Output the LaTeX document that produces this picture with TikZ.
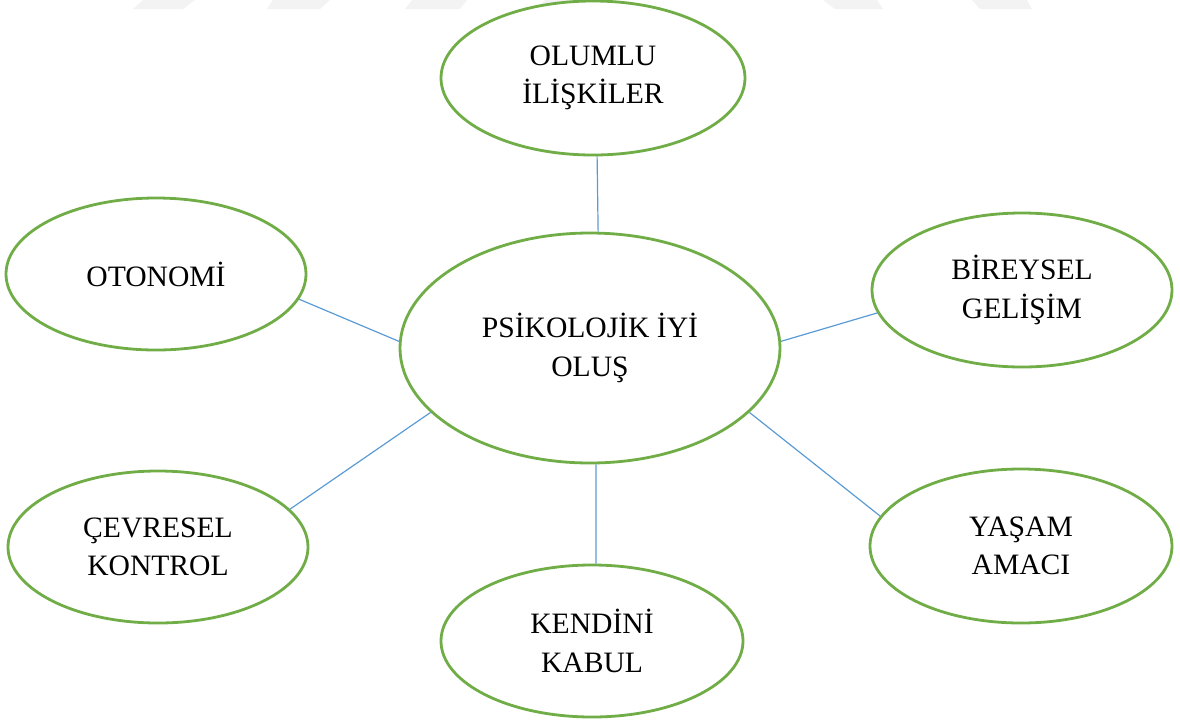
\documentclass[tikz,border=0pt]{standalone}
\usepackage{fontspec}
\setmainfont{Liberation Serif}
\usetikzlibrary{shapes.geometric}
\definecolor{ringgreen}{HTML}{70AD47}
\definecolor{linkblue}{HTML}{5B9BD5}
\definecolor{wmgray}{HTML}{F3F3F3}
\begin{document}
\begin{tikzpicture}[x=0.5pt,y=-0.5pt,
  bubble/.style={ellipse, draw=ringgreen, line width=1.4pt, fill=white, inner sep=0pt,
    align=center, font=\fontsize{14.8pt}{19.2pt}\selectfont},
  link/.style={draw=linkblue, line width=0.6pt},
  wm/.style={fill=wmgray, draw=none}]
\useasboundingbox (0,0) rectangle (1180,719);
% faint watermark marks along the top edge
\fill[wm] (143,0) -- (195,0) -- (183,9) -- (133,9) -- cycle;
\fill[wm] (273,0) -- (330,0) -- (320,9) -- (267,9) -- cycle;
\fill[wm] (412,0) -- (467,0) -- (460,9) -- (405,9) -- cycle;
\fill[wm] (545,0) -- (600,0) -- (592,9) -- (538,9) -- cycle;
\fill[wm] (823,0) -- (877,0) -- (883,9) -- (835,9) -- cycle;
\fill[wm] (972,0) -- (1027,0) -- (1032,9) -- (980,9) -- cycle;
% nodes
\node[bubble, minimum width=190pt, minimum height=115pt] (center) at (590,348) {PSİKOLOJİK İYİ\\OLUŞ};
\node[bubble, minimum width=152pt, minimum height=77pt] (olumlu) at (593,78) {OLUMLU\\İLİŞKİLER};
\node[bubble, minimum width=150pt, minimum height=76pt] (oto) at (156,274) {OTONOMİ};
\node[bubble, minimum width=150pt, minimum height=77pt] (bir) at (1022,290) {BİREYSEL\\GELİŞİM};
\node[bubble, minimum width=150pt, minimum height=76pt] (cev) at (158,547) {ÇEVRESEL\\KONTROL};
\node[bubble, minimum width=151pt, minimum height=76pt] (ken) at (592,641) {KENDİNİ\\KABUL};
\node[bubble, minimum width=151pt, minimum height=77pt] (yas) at (1021,546) {YAŞAM\\AMACI};
% connectors
\draw[link] (olumlu.-87) -- (center.86.5);
\draw[link] (oto.-10) -- (center.178.5);
\draw[link] (bir.-171) -- (center.2);
\draw[link] (cev.16.6) -- (center.202.9);
\draw[link] (ken.87) -- (center.-87);
\draw[link] (yas.168) -- (center.-22.4);
\end{tikzpicture}
\end{document}
